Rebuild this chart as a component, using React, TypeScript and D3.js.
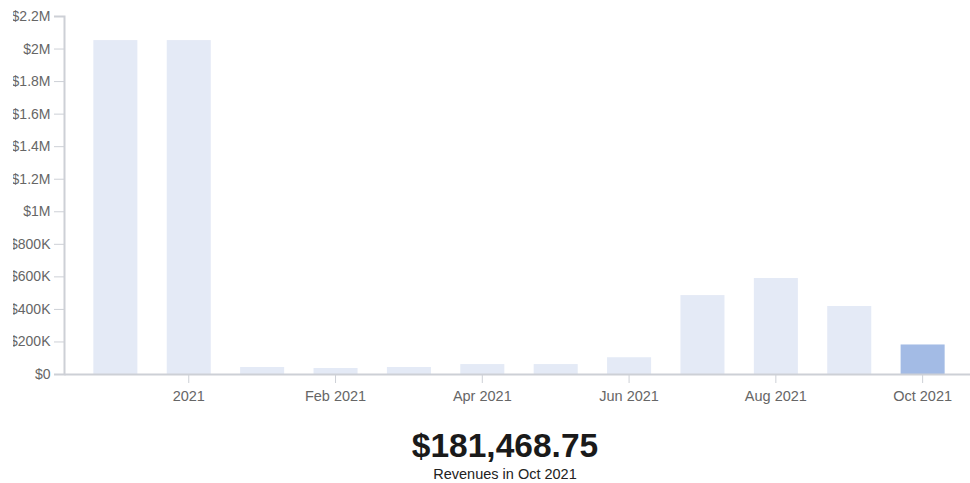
import { useEffect, useRef } from 'react';
import * as d3 from 'd3';

const months = [
  '2020-11', '2020-12', '2021-01', '2021-02', '2021-03', '2021-04',
  '2021-05', '2021-06', '2021-07', '2021-08', '2021-09', '2021-10',
];
const revenues = [
  2052000, 2052000, 43000, 37000, 43000, 61000,
  61000, 103000, 485000, 590000, 418000, 181468.75,
];
// the source chart labels every other month like this
const xTickKeys = ['2020-12', '2021-02', '2021-04', '2021-06', '2021-08', '2021-10'];
const xTickLabels = ['2021', 'Feb 2021', 'Apr 2021', 'Jun 2021', 'Aug 2021', 'Oct 2021'];
const yTicks = [0, 200000, 400000, 600000, 800000, 1000000, 1200000, 1400000, 1600000, 1800000, 2000000, 2200000];

const selectedIndex = 11;
const selectedLabel = 'Revenues in Oct 2021';

const width = 957;
const height = 475;
const margin = { top: 8, right: -4, bottom: 109, left: 51 };

export default function App() {
  const svgRef = useRef<SVGSVGElement>(null);

  useEffect(() => {
    document.body.style.overflow = 'hidden';
    const svg = d3.select(svgRef.current);
    svg.selectAll('*').remove();

    const x = d3.scaleBand<string>()
      .domain(months)
      .range([margin.left, width - margin.right])
      .paddingInner(0.4)
      .paddingOuter(0.4);

    const y = d3.scaleLinear()
      .domain([0, 2200000])
      .range([height - margin.bottom, margin.top]);

    const fmtY = (v: number) => {
      if (v === 0) return '$0';
      if (v >= 1e6) return '$' + d3.format('~g')(v / 1e6) + 'M';
      return '$' + d3.format('~g')(v / 1e3) + 'K';
    };

    svg.append('g')
      .selectAll('rect')
      .data(revenues)
      .join('rect')
      .attr('x', (_d, i) => x(months[i])!)
      .attr('width', x.bandwidth())
      .attr('y', (d) => y(d))
      .attr('height', (d) => y(0) - y(d))
      .attr('fill', (_d, i) => (i === selectedIndex ? '#a3bbe5' : '#e4eaf6'));

    const yAxis = svg.append('g')
      .attr('transform', `translate(${margin.left},0)`)
      .call(d3.axisLeft(y).tickValues(yTicks).tickFormat((d) => fmtY(+d)).tickSize(10).tickPadding(3.5));
    yAxis.select('.domain').attr('stroke', '#cdd0d6').attr('stroke-width', 2);
    yAxis.selectAll('.tick text').attr('font-size', 14);

    const xAxis = svg.append('g')
      .attr('transform', `translate(0,${y(0)})`)
      .call(
        d3.axisBottom(x)
          .tickValues(xTickKeys)
          .tickFormat((d) => xTickLabels[xTickKeys.indexOf(d)])
          .tickSize(9)
          .tickPadding(8)
          .tickSizeOuter(0)
      );
    xAxis.select('.domain').attr('stroke', '#cdd0d6').attr('stroke-width', 2);
    xAxis.selectAll('.tick text').attr('font-size', 14.5);

    svg.selectAll('.tick line').attr('stroke', '#cdd0d6');
    svg.selectAll('.tick text')
      .attr('fill', '#666')
      .attr('font-family', '"Liberation Sans", Arial, sans-serif');

    svg.append('text')
      .attr('x', 492)
      .attr('y', 449)
      .attr('text-anchor', 'middle')
      .attr('font-family', '"Liberation Sans", Arial, sans-serif')
      .attr('font-weight', 'bold')
      .attr('font-size', 33.5)
      .attr('fill', '#1a1a1a')
      .text(d3.format('$,.2f')(revenues[selectedIndex]));

    svg.append('text')
      .attr('x', 492)
      .attr('y', 471)
      .attr('text-anchor', 'middle')
      .attr('font-family', '"Liberation Sans", Arial, sans-serif')
      .attr('font-size', 14.5)
      .attr('fill', '#222')
      .text(selectedLabel);
  }, []);

  return (
    <div style={{ position: 'absolute', left: 13, top: 8, width, height, overflow: 'hidden' }}>
      <svg ref={svgRef} width={width} height={height} style={{ display: 'block' }} />
    </div>
  );
}
